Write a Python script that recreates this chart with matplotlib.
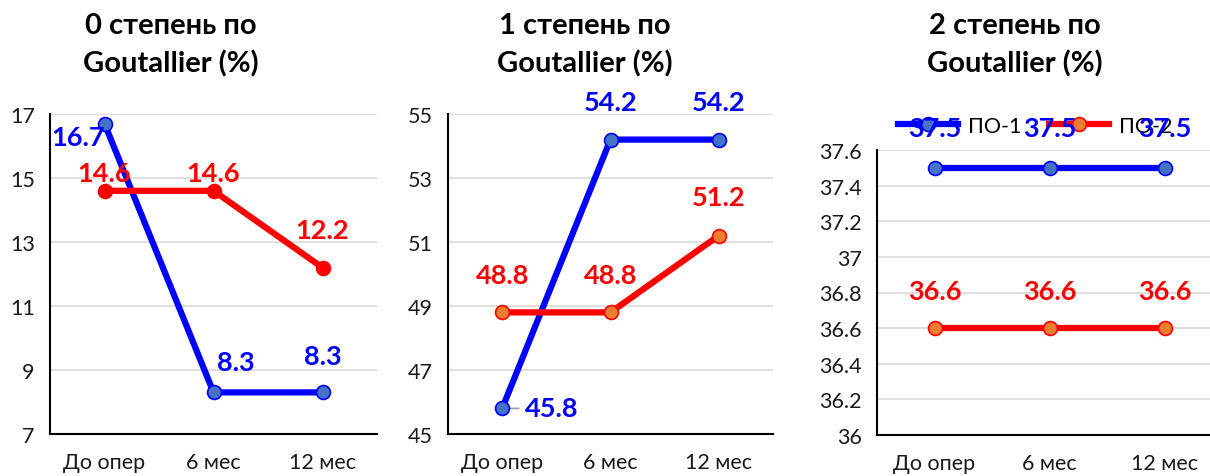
import matplotlib
matplotlib.use("Agg")
import matplotlib.pyplot as plt
from matplotlib.ticker import FuncFormatter

plt.rcParams['font.family'] = ['Lato', 'DejaVu Sans']

categories = ["До опер", "6 мес", "12 мес"]
series_names = ["ПО-1", "ПО-2"]

titles = ["0 степень по\nGoutallier (%)", "1 степень по\nGoutallier (%)", "2 степень по\nGoutallier (%)"]

grade0_po1 = [16.7, 8.3, 8.3]
grade0_po2 = [14.6, 14.6, 12.2]
grade1_po1 = [45.8, 54.2, 54.2]
grade1_po2 = [48.8, 48.8, 51.2]
grade2_po1 = [37.5, 37.5, 37.5]
grade2_po2 = [36.6, 36.6, 36.6]

yticks0 = [7, 9, 11, 13, 15, 17]
yticks1 = [45, 47, 49, 51, 53, 55]
yticks2 = [36, 36.2, 36.4, 36.6, 36.8, 37, 37.2, 37.4, 37.6]

W, H = 1210, 477
fig = plt.figure(figsize=(W / 100, H / 100), dpi=100)

BLUE = "#0000FF"
RED = "#FF0000"
BLUE_FACE = "#4472C4"
ORANGE_FACE = "#ED7D31"


def px_axes(l, t, r, b):
    return fig.add_axes([l / W, 1 - b / H, (r - l) / W, (b - t) / H])


panels = [
    dict(rect=(50, 115, 377, 435), p1=grade0_po1, p2=grade0_po2, ticks=yticks0,
         red_face=RED, title_x=171,
         off1=[(-19, -10), (16, 22), (0, 26)], off2=[(0, 13), (0, 13), (0, 27)]),
    dict(rect=(448, 115, 773, 435), p1=grade1_po1, p2=grade1_po2, ticks=yticks1,
         red_face=ORANGE_FACE, title_x=585,
         off1=[(36, 0), (0, 27), (0, 27)], off2=[(0, 27), (0, 27), (0, 28)]),
    dict(rect=(877, 151, 1222, 436), p1=grade2_po1, p2=grade2_po2, ticks=yticks2,
         red_face=ORANGE_FACE, title_x=1015,
         off1=[(0, 29), (0, 29), (0, 29)], off2=[(0, 27), (0, 27), (0, 27)]),
]

x = list(range(len(categories)))

for i, p in enumerate(panels):
    ax = px_axes(*p["rect"])
    ax.set_xlim(-0.5, len(categories) - 0.5)
    ax.set_ylim(p["ticks"][0], p["ticks"][-1])
    ax.set_yticks(p["ticks"])
    ax.yaxis.set_major_formatter(FuncFormatter(lambda v, pos: f"{v:g}"))
    ax.set_xticks(x)
    ax.set_xticklabels(categories)
    ax.tick_params(axis="both", length=0, labelsize=15.5, colors="#1a1a1a")
    ax.tick_params(axis="y", pad=11)
    ax.tick_params(axis="x", pad=13)
    for s in ["top", "right"]:
        ax.spines[s].set_visible(False)
    for s in ["left", "bottom"]:
        ax.spines[s].set_linewidth(1.5)
        ax.spines[s].set_color("black")
    ax.grid(axis="y", color="#D9D9D9", linewidth=1.2)
    ax.set_axisbelow(True)

    l1, = ax.plot(x, p["p1"], color=BLUE, lw=4.5, marker="o", ms=10,
                  mfc=BLUE_FACE, mec=BLUE, mew=1.2, label=series_names[0], zorder=3)
    l2, = ax.plot(x, p["p2"], color=RED, lw=4.5, marker="o", ms=10,
                  mfc=p["red_face"], mec=RED, mew=1.2, label=series_names[1], zorder=3)

    if i == 2:
        leg = ax.legend(handles=[l1, l2], loc="center", ncol=2, frameon=False,
                        bbox_to_anchor=(1035 / W, 1 - 127 / H), bbox_transform=fig.transFigure,
                        fontsize=15.5, handlelength=2.8, handletextpad=0.45, columnspacing=1.3)
        leg.set_zorder(4)

    for j, v in enumerate(p["p1"]):
        dx, dy = p["off1"][j]
        ax.annotate(f"{v:g}", (x[j], v), xytext=(dx, dy), textcoords="offset points",
                    ha="center", va="center", color=BLUE, fontsize=19.5, fontweight="bold",
                    zorder=5, annotation_clip=False)
    for j, v in enumerate(p["p2"]):
        dx, dy = p["off2"][j]
        ax.annotate(f"{v:g}", (x[j], v), xytext=(dx, dy), textcoords="offset points",
                    ha="center", va="center", color=RED, fontsize=19.5, fontweight="bold",
                    zorder=5, annotation_clip=False)
    if i == 1:
        ax.annotate("", xy=(x[0], p["p1"][0]), xytext=(14, 0), textcoords="offset points",
                    arrowprops=dict(arrowstyle="-", color="#A0A0A0", lw=1.2), zorder=2.5)

    fig.text(p["title_x"] / W, 1 - 45 / H, titles[i], ha="center", va="center",
             fontsize=21, fontweight="bold", linespacing=1.5, color="black")

fig.savefig("out.png", dpi=100)
